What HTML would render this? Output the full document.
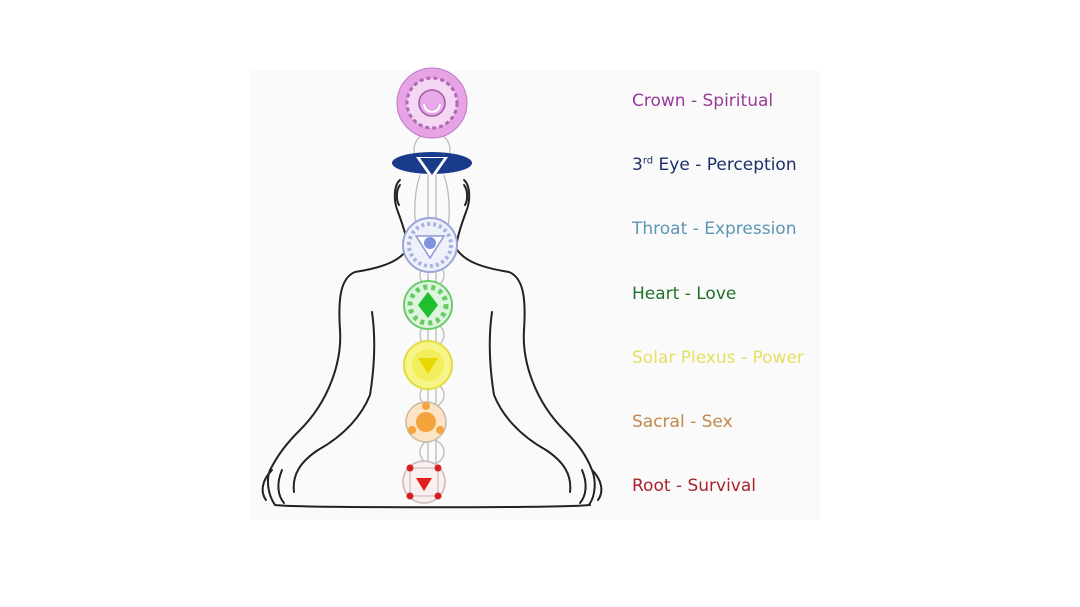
<!DOCTYPE html>
<html><head><meta charset="utf-8"><style>
html,body{margin:0;padding:0;background:#fff;width:1080px;height:607px;overflow:hidden}
.t{position:absolute;left:632px;font-family:"DejaVu Sans","Liberation Sans",sans-serif;font-size:17px;letter-spacing:0px}
</style></head><body>
<div style="position:absolute;left:250px;top:70px;width:570px;height:450px;background:#fafafa"></div>
<svg width="1080" height="607" style="position:absolute;left:0;top:0">
<g fill="none" stroke="#222" stroke-width="2" stroke-linecap="round" stroke-linejoin="round">
<path d="M400,180 C394,185 393,200 398,212 C404,228 407,238 408,248 M464,180 C470,185 471,200 466,212 C460,228 457,238 456,248"/>
<path d="M400,185 C396,190 396,200 399,205 M464,185 C468,190 468,200 465,205"/>
<path d="M408,248 C400,262 380,268 355,272 C340,278 338,300 340,330 C342,360 330,400 300,430 C285,445 278,455 270,470 C266,480 268,495 275,505 C300,508 560,508 590,505"/>
<path d="M456,248 C464,262 484,268 509,272 C524,278 526,300 524,330 C522,360 534,400 564,430 C579,445 586,455 592,470 C596,480 596,495 589,505"/>
<path d="M372,312 C376,340 374,370 370,395 C362,415 345,435 318,450 C300,462 292,475 294,492"/>
<path d="M492,312 C488,340 490,370 494,395 C502,415 519,435 546,450 C564,462 572,475 570,492"/>
<path d="M272,470 C262,480 260,492 266,500 M282,470 C276,484 278,496 284,503"/>
<path d="M592,470 C602,480 604,492 598,500 M582,470 C588,484 586,496 580,503"/>
</g>
<g fill="none" stroke="#bbb" stroke-width="1.3">
<path d="M420,175 C412,200 414,225 420,245 M444,175 C452,200 450,225 444,245 M428,175 V480 M436,175 V480"/>
<circle cx="432" cy="150" r="18"/>
<circle cx="432" cy="275" r="12"/><circle cx="432" cy="335" r="12"/><circle cx="432" cy="395" r="12"/><circle cx="432" cy="452" r="12"/>
</g>
<circle cx="432" cy="103" r="35" fill="#e6a4e6" stroke="#c27ac2"/>
<circle cx="432" cy="103" r="25" fill="#f3d7f3" stroke="#b06ab0" stroke-dasharray="4 3" stroke-width="3"/>
<circle cx="432" cy="103" r="13" fill="#e9a8e9" stroke="#a05aa0" stroke-width="1.5"/>
<path d="M424,104 a8,8 0 0 0 16,0" fill="none" stroke="#fff" stroke-width="2"/>
<ellipse cx="432" cy="163" rx="40" ry="11" fill="#1a3b8c"/>
<path d="M416,157 L448,157 L432,180 Z" fill="#fff"/>
<path d="M420,158 L444,158 L432,175 Z" fill="#1a3b8c"/>
<circle cx="430" cy="245" r="27" fill="#eef0fa" stroke="#9aa6d8" stroke-width="2"/>
<circle cx="430" cy="245" r="21" fill="none" stroke="#a8b2de" stroke-width="4" stroke-dasharray="3 3"/>
<path d="M416,236 L444,236 L430,258 Z" fill="#fff" stroke="#8a98d6" stroke-width="1.5"/>
<circle cx="430" cy="243" r="6" fill="#7e92de"/>
<circle cx="428" cy="305" r="24" fill="#ddf4dd" stroke="#6ccc6c" stroke-width="2"/>
<circle cx="428" cy="305" r="18" fill="none" stroke="#66cc66" stroke-width="5" stroke-dasharray="4 4"/>
<path d="M428,292 L438,305 L428,318 L418,305 Z" fill="#1fbf2f"/>
<circle cx="428" cy="365" r="24" fill="#f7f488" stroke="#e2dc40" stroke-width="2"/>
<circle cx="428" cy="365" r="16" fill="#f3ee5c"/>
<path d="M418,358 L438,358 L428,374 Z" fill="#e8d800"/>
<circle cx="426" cy="422" r="20" fill="#fbe3c4" stroke="#c8b8a8" stroke-width="1.5"/>
<circle cx="426" cy="422" r="10" fill="#f5a43c"/>
<circle cx="426" cy="406" r="4" fill="#f5a43c"/><circle cx="412" cy="430" r="4" fill="#f5a43c"/><circle cx="440" cy="430" r="4" fill="#f5a43c"/>
<circle cx="424" cy="482" r="21" fill="#fbeeee" stroke="#c8b8b8" stroke-width="1.5"/>
<rect x="410" y="468" width="28" height="28" fill="none" stroke="#bbb"/>
<path d="M416,478 L432,478 L424,491 Z" fill="#e02020"/>
<circle cx="410" cy="468" r="3.5" fill="#d82020"/><circle cx="438" cy="468" r="3.5" fill="#d82020"/>
<circle cx="410" cy="496" r="3.5" fill="#d82020"/><circle cx="438" cy="496" r="3.5" fill="#d82020"/>
</svg>
<div class="t" style="top:91px;color:#9a3a9a">Crown - Spiritual</div>
<div class="t" style="top:155px;color:#1c2f6a">3<sup style="font-size:10px">rd</sup> Eye - Perception</div>
<div class="t" style="top:219px;color:#5c96b4">Throat - Expression</div>
<div class="t" style="top:284px;color:#22702a">Heart - Love</div>
<div class="t" style="top:348px;color:#e4e060">Solar Plexus - Power</div>
<div class="t" style="top:412px;color:#c4874a">Sacral - Sex</div>
<div class="t" style="top:476px;color:#a8232a">Root - Survival</div>
</body></html>
